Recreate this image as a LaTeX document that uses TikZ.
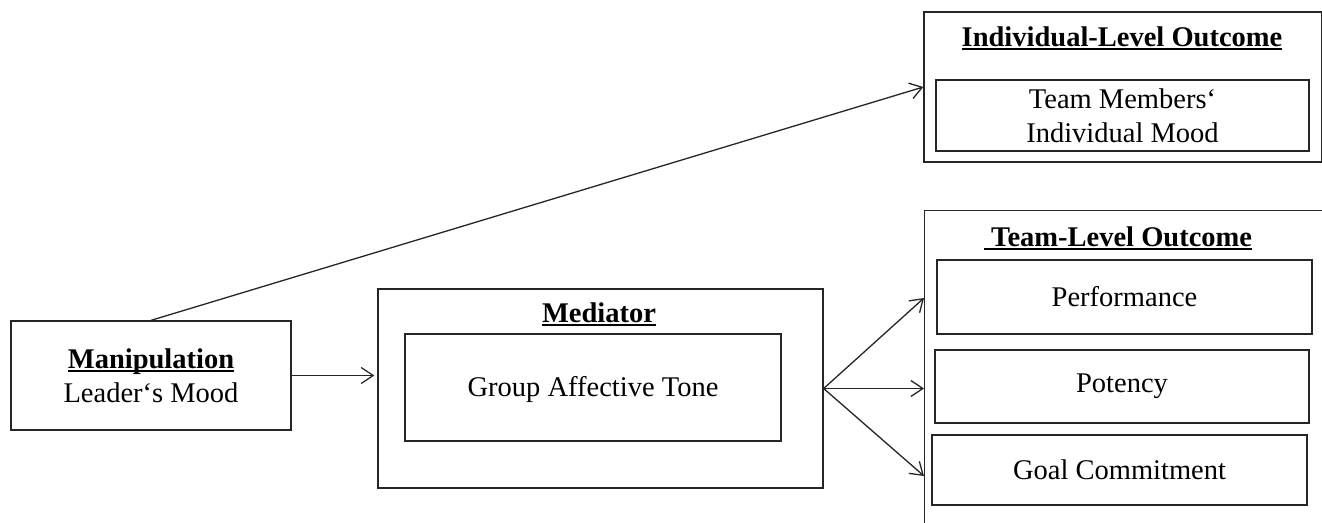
\documentclass[tikz,border=0pt]{standalone}
\usepackage{fontspec}
\setmainfont{Liberation Serif}
\usetikzlibrary{arrows.meta}
\newcommand\myul[1]{\setbox0\hbox{#1}\rlap{\rule[-4pt]{\wd0}{1.9pt}}\box0}
\begin{document}
\begin{tikzpicture}[x=1pt,y=-1pt,
  box/.style={draw=black!85, line width=1.3pt, rectangle, inner sep=0pt, align=center},
  lbl/.style={inner sep=0pt, align=center},
  arr/.style={draw=black!85, line width=1.3pt, -{Straight Barb[length=12pt,width=16pt,line width=1.3pt]}},
  every node/.style={font=\fontsize{28.5}{34}\selectfont}]
\fill[white] (0,0) rectangle (1322,522);
\useasboundingbox (0,0) rectangle (1322,522);
\clip (0,0) rectangle (1322,522);
% Manipulation
\node[box, minimum width=280pt, minimum height=109pt] (manip) at (151,375.5)
  {\textbf{\myul{Manipulation}}\\Leader‘s Mood};
% Mediator
\node[box, minimum width=445pt, minimum height=199pt] (med) at (600.5,388.5) {};
\node[lbl] (medt) at (599,314.5) {\textbf{\myul{Mediator}}};
\node[box, minimum width=376pt, minimum height=107pt, text depth=2pt] (gat) at (593,387.5) {Group Affective Tone};
% Individual-level
\node[box, minimum width=398pt, minimum height=150pt] (indiv) at (1123,87) {};
\node[lbl] (indivt) at (1122,38.5) {\textbf{\myul{Individual-Level Outcome}}};
\node[box, minimum width=373pt, minimum height=71pt] (tmm) at (1122.5,115.5) {Team Members‘\\Individual Mood};
% Team-level
\node[box, minimum width=398pt, minimum height=340pt, anchor=north west] (team) at (924,210) {};
\node[lbl] (teamt) at (1118,238.5) {\textbf{\myul{\ Team-Level Outcome}}};
\node[box, minimum width=375pt, minimum height=74pt] (perf) at (1124.5,297) {Performance};
\node[box, minimum width=374pt, minimum height=73pt] (pot) at (1122,386.5) {Potency};
\node[box, minimum width=375pt, minimum height=70pt] (goal) at (1119.5,470) {Goal Commitment};
% connectors
\coordinate (t1) at (924,298);
\coordinate (t2) at (924,388.5);
\coordinate (t3) at (924,476);
\draw[arr, shorten >=3pt] (manip.east) -- (manip.east -| med.west);
\draw[arr] (manip.north) -- (indiv.west);
\draw[arr] (med.east) -- (t1);
\draw[arr] (med.east) -- (t2);
\draw[arr] (med.east) -- (t3);
\end{tikzpicture}
\end{document}
